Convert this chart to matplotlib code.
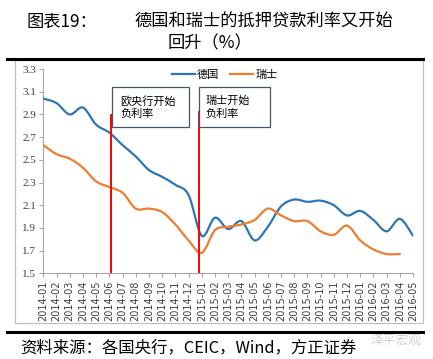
import numpy as np
import matplotlib
matplotlib.use("Agg")
import matplotlib.pyplot as plt
from matplotlib.path import Path
from matplotlib.patches import PathPatch, Rectangle
from matplotlib.lines import Line2D

plt.rcParams['font.family'] = ['Noto Sans CJK SC', 'DejaVu Sans']

# 月份
months = ["2014-01", "2014-02", "2014-03", "2014-04", "2014-05", "2014-06",
          "2014-07", "2014-08", "2014-09", "2014-10", "2014-11", "2014-12",
          "2015-01", "2015-02", "2015-03", "2015-04", "2015-05", "2015-06",
          "2015-07", "2015-08", "2015-09", "2015-10", "2015-11", "2015-12",
          "2016-01", "2016-02", "2016-03", "2016-04", "2016-05"]
# 德国抵押贷款利率
germany = [3.04, 3.00, 2.90, 2.96, 2.81, 2.74, 2.63, 2.53, 2.41, 2.35,
           2.28, 2.19, 1.83, 1.99, 1.89, 1.96, 1.79, 1.91, 2.09, 2.15,
           2.13, 2.14, 2.10, 2.01, 2.05, 1.97, 1.87, 1.98, 1.83]
# 瑞士抵押贷款利率 (到2016-04)
swiss = [2.63, 2.55, 2.51, 2.43, 2.31, 2.26, 2.21, 2.07, 2.07, 2.04,
         1.93, 1.79, 1.68, 1.88, 1.91, 1.93, 1.97, 2.07, 2.01, 1.96,
         1.96, 1.87, 1.84, 1.92, 1.79, 1.71, 1.67, 1.67]
yticks = [1.5, 1.7, 1.9, 2.1, 2.3, 2.5, 2.7, 2.9, 3.1, 3.3]

# 负利率事件: (位置, 红线顶端)
ecb_x, ecb_top = 5.1, 2.90
snb_x, snb_top = 11.8, 2.93

BLUE = '#2E75B6'
ORANGE = '#ED7D31'


def smooth_path(y):
    # 类似Excel平滑线: Catmull-Rom 转贝塞尔
    x = np.arange(len(y), dtype=float)
    y = np.asarray(y, dtype=float)
    pts = np.column_stack([x, y])
    verts = [pts[0]]
    codes = [Path.MOVETO]
    n = len(pts)
    for i in range(n - 1):
        p0 = pts[max(i - 1, 0)]
        p1 = pts[i]
        p2 = pts[i + 1]
        p3 = pts[min(i + 2, n - 1)]
        c1 = p1 + (p2 - p0) / 6.0
        c2 = p2 - (p3 - p1) / 6.0
        verts += [c1, c2, p2]
        codes += [Path.CURVE4] * 3
    return Path(verts, codes)


fig = plt.figure(figsize=(4.33, 3.59), dpi=100)
ax = fig.add_axes([0.100, 0.2387, 0.854, 0.569])

ax.add_patch(PathPatch(smooth_path(germany), fill=False, edgecolor=BLUE,
                       lw=1.6, capstyle='round', zorder=3))
ax.add_patch(PathPatch(smooth_path(swiss), fill=False, edgecolor=ORANGE,
                       lw=1.6, capstyle='round', zorder=3))

ax.vlines([ecb_x], 1.5, ecb_top, color='#FF0000', lw=1.4, zorder=4)
ax.vlines([snb_x], 1.5, snb_top, color='#FF0000', lw=1.4, zorder=4)

# 注释框
ax.add_patch(Rectangle((5.2, 2.79), 5.84, 0.353, facecolor='white',
                       edgecolor='#44546A', lw=0.9, zorder=5))
ax.text(5.86, 2.962, "欧央行开始\n负利率", fontsize=8, va='center',
        ha='left', linespacing=1.25, zorder=6, color='#000000')
ax.add_patch(Rectangle((11.8, 2.79), 5.37, 0.353, facecolor='white',
                       edgecolor='#44546A', lw=0.9, zorder=5))
ax.text(12.25, 2.962, "瑞士开始\n负利率", fontsize=8, va='center',
        ha='left', linespacing=1.25, zorder=6, color='#000000')

handles = [Line2D([], [], color=BLUE, lw=1.6), Line2D([], [], color=ORANGE, lw=1.6)]
ax.legend(handles, ["德国", "瑞士"], ncol=2, frameon=False, loc='center',
          bbox_to_anchor=(0.49, 0.972), fontsize=8, handlelength=2.1,
          handletextpad=0.15, columnspacing=1.0, borderpad=0)

ax.set_xlim(0, len(months) - 1)
ax.set_ylim(1.5, 3.3)
ax.set_yticks(yticks)
ax.set_yticklabels([f"{v:.1f}" for v in yticks], family='Liberation Serif',
                   fontsize=8, color='#404040')
ax.set_xticks(range(len(months)))
ax.set_xticklabels(months, rotation=90, family='DejaVu Sans', fontsize=7,
                   color='#404040')
ax.tick_params(axis='both', direction='out', length=3, width=0.8,
               color='#A6A6A6', pad=2)
for s in ['top', 'right']:
    ax.spines[s].set_visible(False)
for s in ['left', 'bottom']:
    ax.spines[s].set_color('#A6A6A6')
    ax.spines[s].set_linewidth(0.8)

# 外框与标题
fig.patches.append(Rectangle((15 / 433, 1 - 323 / 359), 408 / 433, 263 / 359,
                             transform=fig.transFigure, fill=False,
                             edgecolor='#BFBFBF', lw=0.9))
fig.add_artist(Line2D([7 / 433, 423 / 433], [1 - 58.5 / 359] * 2,
                      color='black', lw=2.2))
fig.add_artist(Line2D([7 / 433, 423 / 433], [1 - 331.5 / 359] * 2,
                      color='black', lw=2.2))

fig.text(27 / 433, 1 - 22 / 359, "图表19：", fontsize=12.4, va='center', ha='left')
fig.text(135 / 433, 1 - 22 / 359, "德国和瑞士的抵押贷款利率又开始",
         fontsize=12.4, va='center', ha='left')
fig.text(210 / 433, 1 - 43 / 359, "回升（%）", fontsize=12.4, va='center',
         ha='center')
fig.text(20 / 433, 1 - 348 / 359, "资料来源：各国央行，CEIC，Wind，方正证券",
         fontsize=11.8, va='center', ha='left')
fig.text(421 / 433, 1 - 340 / 359, "泽平宏观", fontsize=9.2, va='center',
         ha='right', color='#D0D0D0')

fig.savefig("out.png", dpi=100)
